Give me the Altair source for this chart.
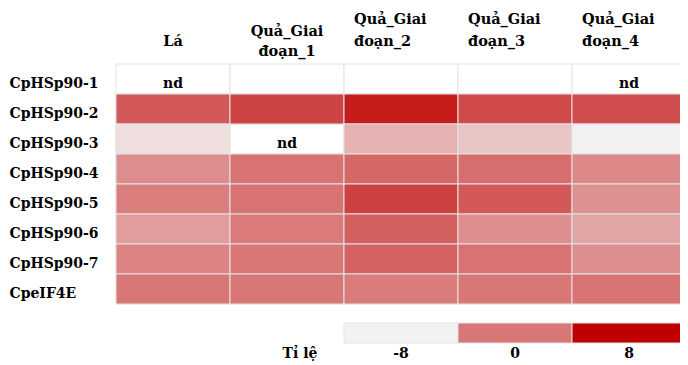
import altair as alt
import pandas as pd

genes = ["CpHSp90-1", "CpHSp90-2", "CpHSp90-3", "CpHSp90-4",
         "CpHSp90-5", "CpHSp90-6", "CpHSp90-7", "CpeIF4E"]
stages = ["Lá", "Quả_Giai đoạn_1", "Quả_Giai đoạn_2", "Quả_Giai đoạn_3", "Quả_Giai đoạn_4"]

la = [None, 2.0, -6.7, -1.4, -0.4, -2.5, -0.8, 0.1]
q1 = [None, 3.4, None, 0.3, 0.3, -0.2, 0.1, 0.0]
q2 = [None, 6.1, -3.8, 1.1, 3.6, 1.6, 1.4, -0.3]
q3 = [None, 3.0, -5.0, 0.6, 2.0, -1.5, 0.3, 0.0]
q4 = [None, 2.8, -7.9, -1.2, -1.7, -3.0, -1.4, 0.3]

nd_cells = [("CpHSp90-1", "Lá"), ("CpHSp90-1", "Quả_Giai đoạn_4"),
            ("CpHSp90-3", "Quả_Giai đoạn_1")]

legend_stages = ["Quả_Giai đoạn_2", "Quả_Giai đoạn_3", "Quả_Giai đoạn_4"]
legend_values = [-8, 0, 8]
legend_labels = ["-8", "0", "8"]
legend_title = "Tỉ lệ"

rows = []
for s, col in zip(stages, [la, q1, q2, q3, q4]):
    for g, v in zip(genes, col):
        rows.append({"gene": g, "stage": s, "value": v,
                     "nd": "nd" if (g, s) in nd_cells else ""})
df = pd.DataFrame(rows)
df_vals = df[df["value"].notna()]
df_nd = df[df["nd"] == "nd"]
hdr = pd.DataFrame({"stage": stages})
leg = pd.DataFrame({"stage": legend_stages, "value": legend_values, "label": legend_labels})
ttl = pd.DataFrame({"stage": ["Quả_Giai đoạn_1"], "t": [legend_title]})

FONT = "DejaVu Serif"
FS = 14
GRID = "#e4e4e4"

color_scale = alt.Scale(domain=[-8, 0, 8], range=["#f2f2f2", "#d97777", "#c00000"],
                        interpolate="rgb")
xenc = alt.X("stage:N", sort=stages, axis=None,
             scale=alt.Scale(paddingInner=0, paddingOuter=0))

base_bg = alt.Chart(df).mark_rect(fill="white", stroke=GRID, strokeWidth=1).encode(
    x=xenc,
    y=alt.Y("gene:N", sort=genes, title=None,
            scale=alt.Scale(paddingInner=0, paddingOuter=0),
            axis=alt.Axis(labelAlign="left", labelPadding=107, ticks=False, domain=False,
                          labelFont=FONT, labelFontWeight="bold", labelFontSize=FS,
                          labelColor="black", labelOffset=5, labelBaseline="middle")),
)

cells = alt.Chart(df_vals).mark_rect(stroke=GRID, strokeWidth=1).encode(
    x=alt.X("stage:N", sort=stages),
    y=alt.Y("gene:N", sort=genes),
    color=alt.Color("value:Q", scale=color_scale, legend=None),
)

nd_text = alt.Chart(df_nd).mark_text(font=FONT, fontWeight="bold", fontSize=FS,
                                     color="black", dy=5).encode(
    x=alt.X("stage:N", sort=stages),
    y=alt.Y("gene:N", sort=genes),
    text="nd:N",
)

hdr_la = alt.Chart(hdr).transform_filter(
    alt.FieldOneOfPredicate(field="stage", oneOf=stages[:1])
).mark_text(font=FONT, fontWeight="bold", fontSize=14.5, color="black",
            align="center", baseline="middle").encode(
    x=alt.X("stage:N", sort=stages), y=alt.value(-22), text="stage:N")

hdr_a = alt.Chart(hdr).transform_filter(
    alt.FieldOneOfPredicate(field="stage", oneOf=stages[1:2])
).mark_text(font=FONT, fontWeight="bold", fontSize=14.5, color="black",
            lineBreak=" ", lineHeight=20, align="center", baseline="middle").encode(
    x=alt.X("stage:N", sort=stages), y=alt.value(-32), text="stage:N")

hdr_b = alt.Chart(hdr).transform_filter(
    alt.FieldOneOfPredicate(field="stage", oneOf=stages[2:])
).mark_text(font=FONT, fontWeight="bold", fontSize=14.5, color="black",
            lineBreak=" ", lineHeight=22, align="left", baseline="middle", dx=-47).encode(
    x=alt.X("stage:N", sort=stages), y=alt.value(-44), text="stage:N")

leg_rect = alt.Chart(leg).mark_rect(stroke=GRID, strokeWidth=1).encode(
    x=alt.X("stage:N", sort=stages), y=alt.value(259), y2=alt.value(279),
    color=alt.Color("value:Q", scale=color_scale, legend=None))

leg_text = alt.Chart(leg).mark_text(font=FONT, fontWeight="bold", fontSize=FS,
                                    color="black", baseline="middle").encode(
    x=alt.X("stage:N", sort=stages), y=alt.value(290), text="label:N")

ttl_text = alt.Chart(ttl).mark_text(font=FONT, fontWeight="bold", fontSize=FS,
                                    color="black", baseline="middle", dx=13).encode(
    x=alt.X("stage:N", sort=stages), y=alt.value(290), text="t:N")

chart = alt.layer(base_bg, cells, nd_text, hdr_la, hdr_a, hdr_b, leg_rect, leg_text,
                  ttl_text).properties(
    width=570, height=240,
    autosize=alt.AutoSizeParams(type="none"),
    padding={"left": 108, "top": 56, "right": -6, "bottom": 59},
).configure_view(stroke=None)

chart.save("out.html", embed_options={"renderer": "svg", "actions": False})
